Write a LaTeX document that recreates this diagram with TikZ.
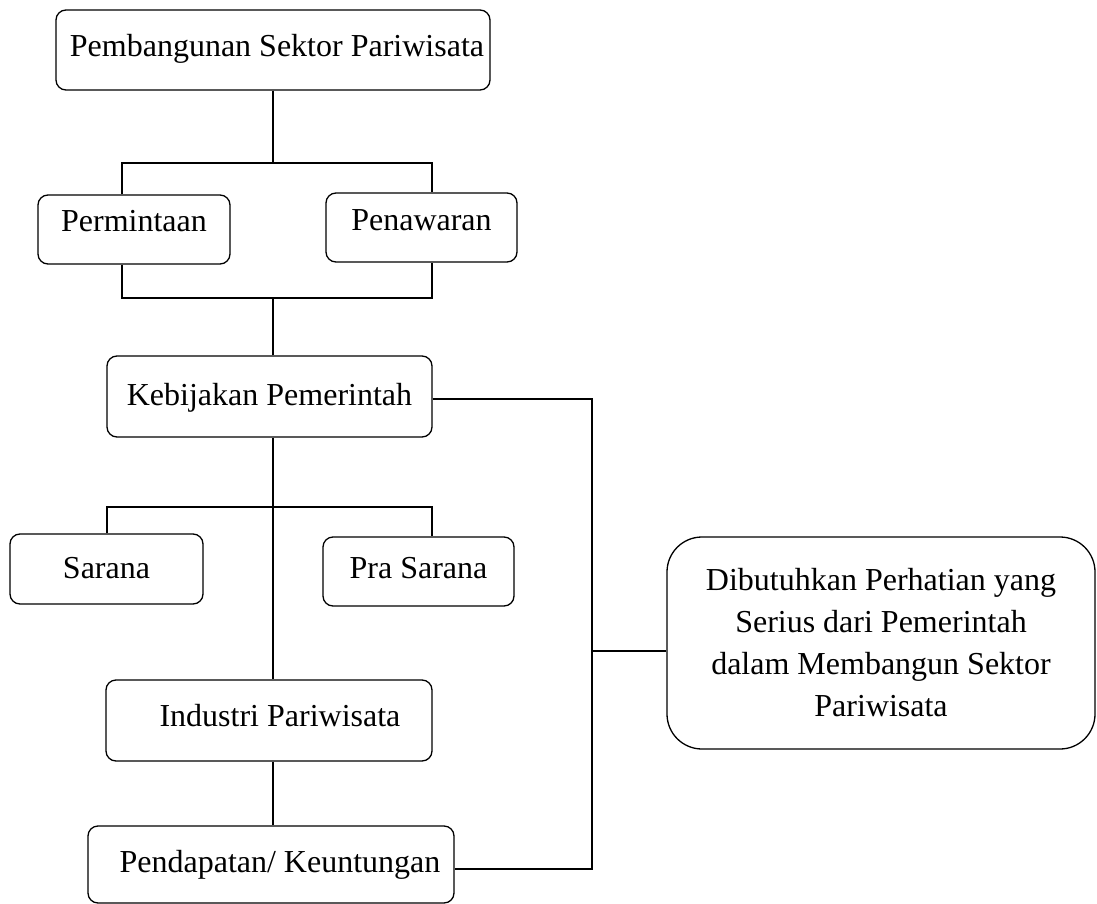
\documentclass[tikz,border=0pt]{standalone}
\usepackage{fontspec}
\setmainfont{Liberation Serif}
\begin{document}
\begin{tikzpicture}[x=1pt,y=-1pt,
  bx/.style={draw, line width=1.3pt, rounded corners=10pt, inner sep=0pt,
    text height=22pt, font=\fontsize{32}{42}\selectfont},
  ln/.style={line width=1.3pt}]
\useasboundingbox (0,0) rectangle (1097,904);
\node[bx, minimum width=434pt, minimum height=80pt, text depth=8pt] (top) at (273,50) {\hspace*{8pt}Pembangunan Sektor Pariwisata};
\node[bx, minimum width=192pt, minimum height=69pt, text depth=19pt] (perm) at (134,229.5) {Permintaan};
\node[bx, minimum width=191pt, minimum height=69pt, text depth=17pt] (pena) at (421.5,227.5) {Penawaran};
\node[bx, minimum width=325pt, minimum height=81pt, text depth=5pt] (kebi) at (269.5,396.5) {Kebijakan Pemerintah};
\node[bx, minimum width=193pt, minimum height=70pt, text depth=4pt] (sara) at (106.5,569) {Sarana};
\node[bx, minimum width=191pt, minimum height=69pt, text depth=9pt] (pras) at (418.5,571.5) {Pra Sarana};
\node[bx, minimum width=326pt, minimum height=81pt, text depth=11pt] (indu) at (269,720.5) {\hspace*{22pt}Industri Pariwisata};
\node[bx, minimum width=366pt, minimum height=77pt, text depth=7pt] (pend) at (271,864.5) {\hspace*{18pt}Pendapatan/ Keuntungan};
\node[bx, rounded corners=35pt, minimum width=428pt, minimum height=212pt, align=center, text height=, text depth=] (dibu) at (881,643) {Dibutuhkan Perhatian yang\\Serius dari Pemerintah\\dalam Membangun Sektor\\Pariwisata};
% junction coordinates
\coordinate (a1) at (122,163);
\coordinate (a2) at (432,163);
\coordinate (b1) at (122,298);
\coordinate (b2) at (432,298);
\coordinate (c1) at (107,507);
\coordinate (c2) at (432,507);
\coordinate (r1) at (592,399);
\coordinate (r2) at (592,869);
\coordinate (r3) at (592,651);
% top bracket
\draw[ln] (top.south) -- (top.south |- a1);
\draw[ln] (a1 |- perm.north) -- (a1) -- (a2) -- (a2 |- pena.north);
% lower bracket
\draw[ln] (b1 |- perm.south) -- (b1) -- (b2) -- (b2 |- pena.south);
\draw[ln] (kebi.north -| top.south) -- (top.south |- b1);
% sarana bracket
\draw[ln] (c1 |- sara.north) -- (c1) -- (c2) -- (c2 |- pras.north);
% main trunk
\draw[ln] (kebi.south -| top.south) -- (indu.north -| top.south);
\draw[ln] (indu.south -| top.south) -- (pend.north -| top.south);
% right connector
\draw[ln] (r1 -| kebi.east) -- (r1) -- (r2) -- (r2 -| pend.east);
\draw[ln] (r3) -- (r3 -| dibu.west);
\end{tikzpicture}
\end{document}
